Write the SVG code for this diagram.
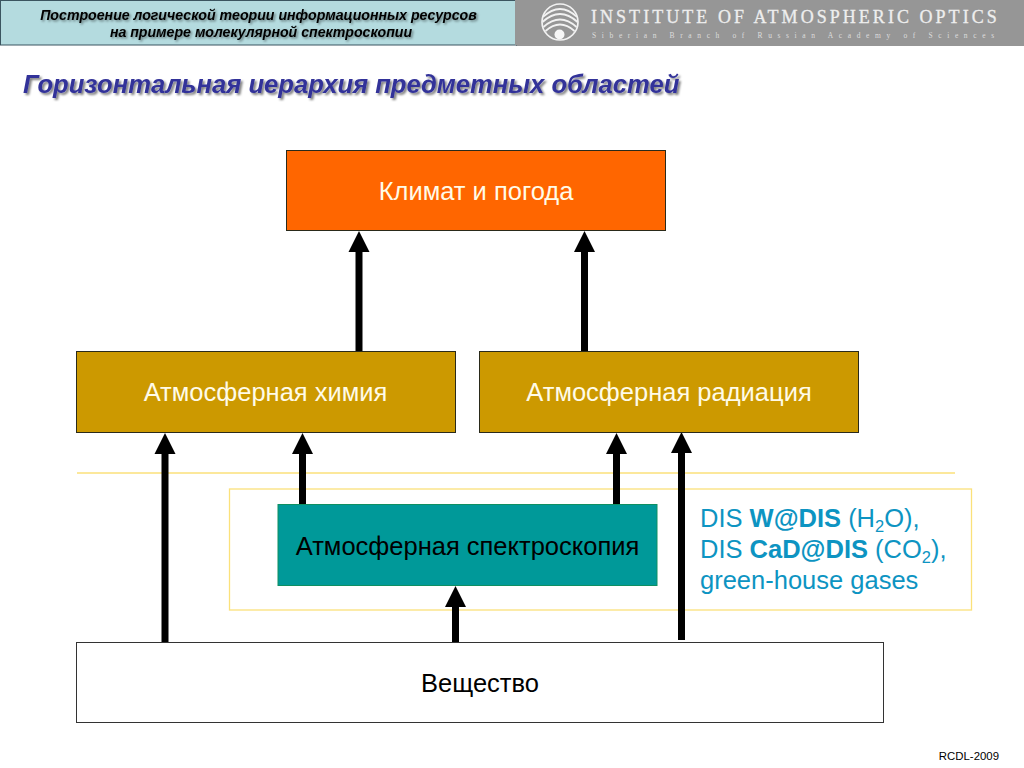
<svg xmlns="http://www.w3.org/2000/svg" width="1024" height="768" viewBox="0 0 1024 768">
<style>
text{font-family:"Liberation Sans",Arial,sans-serif}
.box{stroke:#2a2a1a;stroke-width:1}
.lbl{font-size:25.500px;text-anchor:middle;fill:#000}
.lt{fill:#fffbe8}
.hdr{font-size:14.150px;font-weight:bold;font-style:italic;text-anchor:middle;fill:#000}
.dis{font-size:25.500px;fill:#0d94c2}
.yl{fill:none;stroke:#fbe17a;stroke-width:1.3}
.arr{stroke:#000;stroke-width:7;fill:none;marker-end:url(#ah)}
.inst{font-family:"Liberation Serif",serif;fill:#eee}
.logo{fill:none;stroke:#f2f2f2;stroke-width:1.7}
</style>
<defs>
<marker id="ah" markerUnits="userSpaceOnUse" markerWidth="22" markerHeight="22" refX="0" refY="11" orient="auto" viewBox="0 0 22 22"><path d="M0,0.500L21,11L0,21.500Z" fill="#000"/></marker>
<filter id="s1" x="-5%" y="-30%" width="110%" height="170%"><feDropShadow dx="1.500" dy="1.500" stdDeviation="1" flood-color="#000" flood-opacity=".45"/></filter>
<filter id="s2" x="-5%" y="-30%" width="110%" height="170%"><feDropShadow dx="2" dy="2" stdDeviation="1.200" flood-color="#000" flood-opacity=".5"/></filter>
</defs>
<rect width="1024" height="768" fill="#fff"/>
<g id="header">
<rect x="516" y="0" width="508" height="46" fill="#969696"/>
<rect x="0.500" y="0.500" width="516" height="44.500" fill="#b4dbdf" stroke="#3b5560" stroke-width="1"/>
<rect x="515" y="0" width="2" height="45" fill="#969696"/>
<g filter="url(#s1)">
<text class="hdr" x="258.500" y="20">Построение логической теории информационных ресурсов</text>
<text class="hdr" x="261" y="37">на примере молекулярной спектроскопии</text>
</g>
<g id="logo">
<circle cx="560" cy="22" r="18" class="logo"/>
<path class="logo" d="M543,17Q560,1 577,17M542.500,22Q560,6 577.500,22M543.500,27Q560,12 576.500,27M545.500,31Q560,18 574.500,31"/>
<circle cx="559.500" cy="34.500" r="5" fill="#f6f6f6"/>
</g>
<text class="inst" x="591" y="23" font-size="18" letter-spacing="3.040" stroke="#eee" stroke-width=".3">INSTITUTE OF ATMOSPHERIC OPTICS</text>
<text class="inst" x="592" y="38" font-size="7.500" letter-spacing="5.630" fill-opacity=".8">Siberian Branch of Russian Academy of Sciences</text>
</g>
<text id="title" x="23" y="93" font-size="25.600" font-weight="bold" font-style="italic" fill="#333399" filter="url(#s2)">Горизонтальная иерархия предметных областей</text>
<g id="guides">
<line x1="77" y1="473" x2="955" y2="473" class="yl"/>
<rect x="229.500" y="489" width="742" height="121" class="yl"/>
</g>
<g id="connectors">
<line x1="359" y1="351" x2="359" y2="252" class="arr"/>
<line x1="584.500" y1="351" x2="584.500" y2="252" class="arr"/>
<line x1="165" y1="642" x2="165" y2="454" class="arr"/>
<line x1="302.500" y1="504" x2="302.500" y2="454" class="arr"/>
<line x1="616.500" y1="504" x2="616.500" y2="454" class="arr"/>
<line x1="681.500" y1="640" x2="681.500" y2="453" class="arr"/>
<line x1="455.500" y1="642" x2="455.500" y2="607" class="arr"/>
</g>
<g id="node-climate">
<rect class="box" x="286.500" y="150.500" width="379" height="80" fill="#ff6600"/>
<text class="lbl lt" x="476" y="200">Климат и погода</text>
</g>
<g id="node-chem">
<rect class="box" x="76.500" y="351.500" width="379" height="81" fill="#cc9900"/>
<text class="lbl lt" x="265.500" y="401">Атмосферная химия</text>
</g>
<g id="node-rad">
<rect class="box" x="479.500" y="351.500" width="379" height="81" fill="#cc9900"/>
<text class="lbl lt" x="669" y="401">Атмосферная радиация</text>
</g>
<g id="node-spec">
<rect x="278" y="504.500" width="379" height="81" fill="#009999" stroke="#0e8f62" stroke-width="1"/>
<text class="lbl" x="467.500" y="555">Атмосферная спектроскопия</text>
</g>
<g id="node-matter">
<rect x="76.500" y="642.500" width="807" height="80" fill="#fff" stroke="#333" stroke-width="1"/>
<text class="lbl" x="480" y="692">Вещество</text>
</g>
<g id="dis-label">
<text class="dis" x="700" y="527">DIS <tspan font-weight="bold">W@DIS</tspan> (H<tspan font-size="16.500" dy="5">2</tspan><tspan dy="-5">O),</tspan></text>
<text class="dis" x="700" y="558">DIS <tspan font-weight="bold">CaD@DIS</tspan> (CO<tspan font-size="16.500" dy="5">2</tspan><tspan dy="-5">),</tspan></text>
<text class="dis" x="700" y="589">green-house gases</text>
</g>
<text id="footer" x="999" y="760" font-size="11.400" text-anchor="end" fill="#000">RCDL-2009</text>
</svg>
